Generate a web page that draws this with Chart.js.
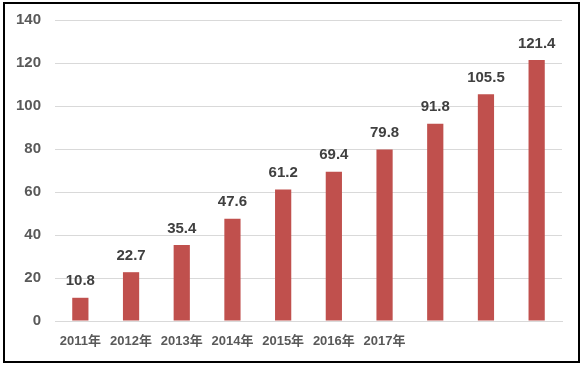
<!DOCTYPE html>
<html>
<head>
<meta charset="utf-8">
<script src="https://cdn.jsdelivr.net/npm/chart.js@4"></script>
<style>
  body { margin: 0; background: #fff; }
  #box {
    position: absolute; left: 3px; top: 2px; width: 577px; height: 361px;
    box-sizing: border-box; border: 2px solid #000; background: #fff;
  }
</style>
</head>
<body>
<div id="box"><canvas id="chart-bar"></canvas></div>
<script>
// dados do gráfico
const years = ['2011年', '2012年', '2013年', '2014年', '2015年', '2016年', '2017年', '', '', ''];
const values = [10.8, 22.7, 35.4, 47.6, 61.2, 69.4, 79.8, 91.8, 105.5, 121.4];
const yTicks = [0, 20, 40, 60, 80, 100, 120, 140];

const fontFamily = '"Liberation Sans", "Noto Sans CJK SC", sans-serif';

// rótulos em cima das barras
const barLabels = {
    id: 'barLabels',
    afterDatasetsDraw(chart) {
        const ctx = chart.ctx;
        const meta = chart.getDatasetMeta(0);
        ctx.save();
        ctx.font = 'bold 15px ' + fontFamily;
        ctx.fillStyle = '#404040';
        ctx.textAlign = 'center';
        ctx.textBaseline = 'bottom';
        meta.data.forEach((bar, i) => {
            ctx.fillText(values[i].toFixed(1), bar.x, bar.y - 9);
        });
        ctx.restore();
    }
};

const chartBar = document.getElementById('chart-bar');

new Chart(chartBar, {
    type: 'bar',
    data: {
        labels: years,
        datasets: [{
            data: values,
            backgroundColor: '#C0504D',
            categoryPercentage: 1,
            barPercentage: 0.32
        }]
    },
    options: {
        responsive: true,
        maintainAspectRatio: false,
        animation: false,
        layout: { padding: { top: 16, right: 16, bottom: 0, left: 0 } },
        plugins: {
            legend: { display: false },
            tooltip: { enabled: false }
        },
        scales: {
            x: {
                afterFit(scale) { scale.height = 40; },
                grid: { display: false, drawTicks: false },
                border: { color: '#d9d9d9', width: 1 },
                ticks: {
                    padding: 13,
                    color: '#595959',
                    font: { family: fontFamily, size: 13, weight: 'bold' },
                    autoSkip: false,
                    maxRotation: 0
                }
            },
            y: {
                min: 0,
                max: 140,
                afterFit(scale) {
                    scale.width = 50;
                    scale.paddingTop = 0;
                    scale.paddingBottom = 0;
                },
                afterBuildTicks(scale) { scale.ticks = yTicks.map(v => ({ value: v })); },
                grid: { color: '#d9d9d9', drawTicks: false },
                border: { display: false },
                ticks: {
                    padding: 14,
                    color: '#595959',
                    font: { family: fontFamily, size: 15, weight: 'bold' }
                }
            }
        }
    },
    plugins: [barLabels]
});
</script>
</body>
</html>
